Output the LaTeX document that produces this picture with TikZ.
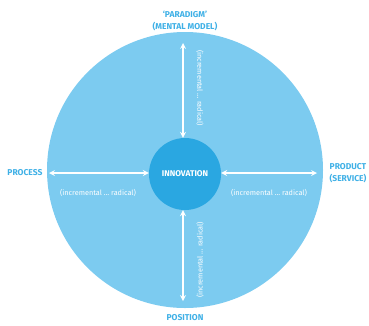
\documentclass[tikz,border=0pt]{standalone}
\usepackage{fontspec}
\setmainfont{Fira Sans}
\usepackage{xcolor}
\usetikzlibrary{arrows,positioning}

\definecolor{skyfill}{HTML}{7CCBF0}
\definecolor{corefill}{HTML}{2AA7E1}
\definecolor{capblue}{HTML}{3FB0E6}

\begin{document}
\begin{tikzpicture}[x=1pt,y=-1pt]

		\tikzstyle{axislbl}=[text=capblue, font=\bfseries\fontsize{8.5}{12}\selectfont, align=center, inner sep=0]
		\tikzstyle{scalelbl}=[text=white, font=\fontsize{7.3}{8}\selectfont, inner sep=0]
		\tikzstyle{axisarrow}=[<->, >=stealth, draw=white, line width=1.6pt]

		\useasboundingbox (0,0) rectangle (369,325);

		\node (outer) at (185,170) [circle, fill=skyfill, minimum size=276pt, inner sep=0] {};
		\node (inno) at (185,174) [circle, fill=corefill, minimum size=72pt, inner sep=0, text=white, font=\bfseries\fontsize{8.3}{9}\selectfont] {INNOVATION};

		\coordinate (ptop) at (183,43);
		\coordinate (pbot) at (183,301);
		\coordinate (pleft) at (49,173);
		\coordinate (pright) at (317,173);

		\draw [axisarrow] (ptop) -- (ptop |- inno.north);
		\draw [axisarrow] (pbot |- inno.south) -- (pbot);
		\draw [axisarrow] (pleft) -- (pleft -| inno.west);
		\draw [axisarrow] (pright -| inno.east) -- (pright);

		\node (sltop) at (200,88) [scalelbl, rotate=-90] {(incremental \ldots\ radical)};
		\node (slbot) at (200,260) [scalelbl, rotate=90] {(incremental \ldots\ radical)};
		\node (slleft) at (98,193) [scalelbl] {(incremental \ldots\ radical)};
		\node (slright) at (269,193) [scalelbl] {(incremental \ldots\ radical)};

		\node (paradigm) at (185,21) [axislbl] {`PARADIGM'\\(MENTAL MODEL)};
		\node (process) at (25,173) [axislbl] {PROCESS};
		\node (product) at (348,173) [axislbl] {PRODUCT\\(SERVICE)};
		\node (position) at (185,318) [axislbl] {POSITION};

\end{tikzpicture}
\end{document}
